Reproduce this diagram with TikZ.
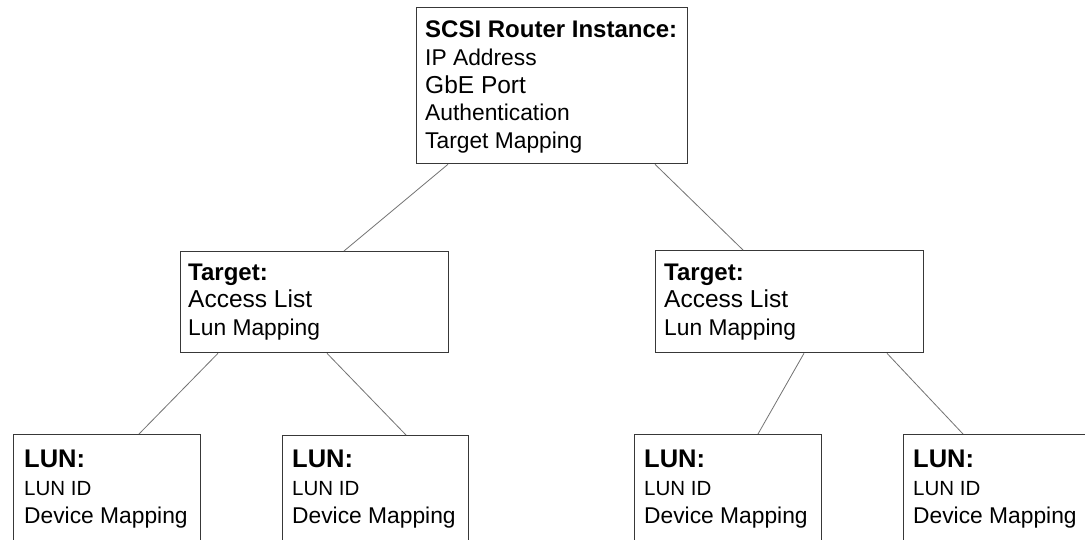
\documentclass[tikz,border=0pt]{standalone}
\usepackage{fontspec}
\setmainfont{Liberation Sans}
\newcommand\fnreg{\fontsize{22.8}{27.8}\selectfont}
\newcommand\fnhead{\fontsize{24}{27.8}\selectfont\bfseries}
\newcommand\fnlun{\fontsize{25.5}{27.8}\selectfont\bfseries}
\newcommand\fnbig{\fontsize{24.5}{27.8}\selectfont}
\newcommand\fnsmall{\fontsize{20.5}{27.8}\selectfont}
\begin{document}
\begin{tikzpicture}[x=1pt,y=-1pt,
  box/.style={draw=black!78, line width=1.3pt, rectangle, inner sep=0pt, anchor=north west},
  txt/.style={anchor=base west, inner sep=0pt, font=\fnreg, text=black},
  link/.style={draw=black!55, line width=0.8pt}]
\useasboundingbox (0,0) rectangle (1085,540);
\clip (0,0) rectangle (1085,540);
\fill[white] (0,0) rectangle (1085,540);
% boxes
\node[box, minimum width=271pt, minimum height=156pt] (root) at (416,7) {};
\node[box, minimum width=268pt, minimum height=101pt] (tl) at (180,251) {};
\node[box, minimum width=268pt, minimum height=102pt] (tr) at (655,250) {};
\node[box, minimum width=187pt, minimum height=150pt] (l1) at (13,434) {};
\node[box, minimum width=186pt, minimum height=150pt] (l2) at (282,435) {};
\node[box, minimum width=187pt, minimum height=150pt] (l3) at (634,434) {};
\node[box, minimum width=187pt, minimum height=150pt] (l4) at (903,434) {};
% texts
\node[txt] (troot) at (425,37.5) {\begin{tabular}[t]{@{}l@{}}{\fnhead SCSI Router Instance:}\\ IP Address\\ {\fnbig GbE Port}\\ Authentication\\ Target Mapping\end{tabular}};
\node[txt] (ttl) at (188,280) {\begin{tabular}[t]{@{}l@{}}{\fnhead Target:}\\ {\fnbig Access List}\\ Lun Mapping\end{tabular}};
\node[txt] (ttr) at (664,280) {\begin{tabular}[t]{@{}l@{}}{\fnhead Target:}\\ {\fnbig Access List}\\ Lun Mapping\end{tabular}};
\node[txt] (tl1) at (24,467.5) {\begin{tabular}[t]{@{}l@{}}{\fnlun LUN:}\\ {\fnsmall LUN ID}\\ Device Mapping\end{tabular}};
\node[txt] (tl2) at (292,467.5) {\begin{tabular}[t]{@{}l@{}}{\fnlun LUN:}\\ {\fnsmall LUN ID}\\ Device Mapping\end{tabular}};
\node[txt] (tl3) at (644,467.5) {\begin{tabular}[t]{@{}l@{}}{\fnlun LUN:}\\ {\fnsmall LUN ID}\\ Device Mapping\end{tabular}};
\node[txt] (tl4) at (913,467.5) {\begin{tabular}[t]{@{}l@{}}{\fnlun LUN:}\\ {\fnsmall LUN ID}\\ Device Mapping\end{tabular}};
% connectors
\draw[link] ([xshift=32pt]root.south west) -- ([xshift=164pt]tl.north west);
\draw[link] ([xshift=239pt]root.south west) -- ([xshift=88pt]tr.north west);
\draw[link] ([xshift=38pt]tl.south west) -- ([xshift=126pt]l1.north west);
\draw[link] ([xshift=147pt]tl.south west) -- ([xshift=124pt]l2.north west);
\draw[link] ([xshift=149pt]tr.south west) -- ([xshift=124pt]l3.north west);
\draw[link] ([xshift=232pt]tr.south west) -- ([xshift=60pt]l4.north west);
\end{tikzpicture}
\end{document}
